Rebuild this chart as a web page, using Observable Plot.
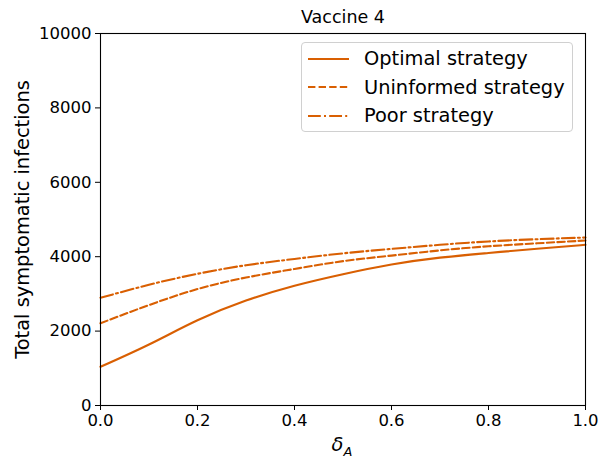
<!DOCTYPE html>
<html>
<head>
<meta charset="utf-8">
<script src="https://cdn.jsdelivr.net/npm/d3@7"></script>
<script src="https://cdn.jsdelivr.net/npm/@observablehq/plot@0.6"></script>
<style>
  html, body { margin: 0; padding: 0; background: #fff; }
  #wrap { position: relative; width: 600px; height: 461px; font-family: "DejaVu Sans", sans-serif; }
  #legend { position: absolute; left: 301px; top: 42px; width: 272px; height: 90px;
    border: 1px solid #d0d0d0; border-radius: 4px; background: rgba(255,255,255,0.8); box-sizing: border-box; }
  .row { position: absolute; left: 0; height: 29px; display: flex; align-items: center; }
  .row svg { margin-left: 6px; }
  .row span { margin-left: 15px; font-size: 19.4px; color: #000; }
  #xlabel { position: absolute; left: 0; width: 600px; top: 433px; text-align: center; padding-left: 84px; box-sizing: border-box;
    font-size: 19.4px; font-style: italic; }
</style>
</head>
<body>
<div id="wrap"></div>
<script>
const title = "Vaccine 4";
const yLabel = "Total symptomatic infections";
const delta = [0, 0.1, 0.2, 0.3, 0.4, 0.5, 0.6, 0.7, 0.8, 0.9, 1.0];
const optimal =    [1040, 1640, 2290, 2820, 3220, 3530, 3790, 3975, 4100, 4215, 4320];
const uninformed = [2210, 2700, 3130, 3440, 3670, 3880, 4030, 4170, 4280, 4360, 4435];
const poor =       [2895, 3245, 3540, 3770, 3940, 4090, 4210, 4320, 4410, 4470, 4516];
const seriesNames = ["Optimal strategy", "Uninformed strategy", "Poor strategy"];
const dashes = [null, "7.4,3.2", "12.8,3.2,2,3.2"];
const color = "#d95f02";
const xTicks = [0, 0.2, 0.4, 0.6, 0.8, 1.0];
const yTicks = [0, 2000, 4000, 6000, 8000, 10000];

const seriesValues = [optimal, uninformed, poor];
const rows = seriesNames.flatMap((name, i) => delta.map((d, j) => ({name, x: d, y: seriesValues[i][j]})));

const plot = Plot.plot({
  width: 600,
  height: 461,
  marginLeft: 100,
  marginRight: 15,
  marginTop: 33,
  marginBottom: 56,
  style: { fontFamily: "DejaVu Sans, sans-serif", color: "#000", background: "#fff", overflow: "visible" },
  x: { domain: [0, 1] },
  y: { domain: [0, 10000] },
  marks: [
    ...seriesNames.map((name, i) => Plot.line(rows.filter(r => r.name === name), {
      x: "x", y: "y", stroke: color, strokeWidth: 2.1, curve: "natural",
      strokeDasharray: dashes[i] ?? undefined
    })),
    Plot.frame({ stroke: "#000", strokeWidth: 1.1 }),
    Plot.axisX({ ticks: xTicks, tickFormat: d3.format(".1f"), tickSize: 5, tickPadding: 4, fontSize: 16.5, label: null, stroke: "#000" }),
    Plot.axisY({ ticks: yTicks, tickFormat: d => String(d), tickSize: 5, tickPadding: 4, fontSize: 16.5, label: null, stroke: "#000" }),
    Plot.text([title], { frameAnchor: "top", dy: -23, fontSize: 17.5, fill: "#000" }),
    Plot.text([yLabel], { frameAnchor: "left", dx: -78, rotate: -90, textAnchor: "middle", fontSize: 19.4, fill: "#000" })
  ]
});

const wrap = document.getElementById("wrap");
wrap.appendChild(plot);

const legend = document.createElement("div");
legend.id = "legend";
seriesNames.forEach((name, i) => {
  const row = document.createElement("div");
  row.className = "row";
  row.style.top = (1 + i * 28.5) + "px";
  row.innerHTML = `<svg width="41" height="10"><line x1="0" y1="5" x2="41" y2="5" stroke="${color}" stroke-width="2.1" ${dashes[i] ? `stroke-dasharray="${dashes[i]}"` : ""}/></svg><span>${name}</span>`;
  legend.appendChild(row);
});
wrap.appendChild(legend);

const xl = document.createElement("div");
xl.id = "xlabel";
xl.innerHTML = "δ<sub style=\"font-size:13px\">A</sub>";
wrap.appendChild(xl);
</script>
</body>
</html>
